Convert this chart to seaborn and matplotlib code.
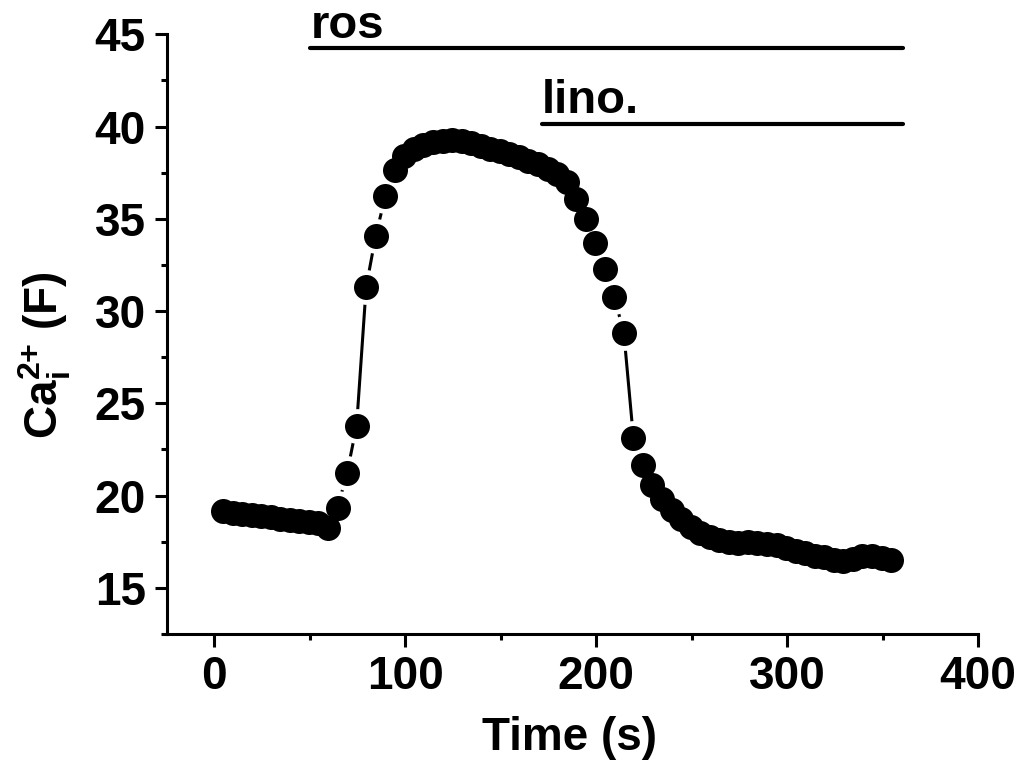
import numpy as np
import pandas as pd
import matplotlib
matplotlib.use("Agg")
import matplotlib.pyplot as plt
import seaborn as sns
from matplotlib.ticker import MultipleLocator

# Data (time in s, Ca_i fluorescence in F)
time_s = [
    4.5, 9.5, 14.5, 19.5, 24.5, 29.5, 34.5, 39.5, 44.5, 49.5,
    54.5, 59.5, 64.5, 69.5, 74.5, 79.5, 84.5, 89.5, 94.5, 99.5,
    104.5, 109.5, 114.5, 119.5, 124.5, 129.5, 134.5, 139.5, 144.5, 149.5,
    154.5, 159.5, 164.5, 169.5, 174.5, 179.5, 184.5, 189.5, 194.5, 199.5,
    204.5, 209.5, 214.5, 219.5, 224.5, 229.5, 234.5, 239.5, 244.5, 249.5,
    254.5, 259.5, 264.5, 269.5, 274.5, 279.5, 284.5, 289.5, 294.5, 299.5,
    304.5, 309.5, 314.5, 319.5, 324.5, 329.5, 334.5, 339.5, 344.5, 349.5,
    354.5,
]
ca_f = [
    19.15, 19.08, 19.0, 18.95, 18.88, 18.82, 18.75, 18.7, 18.62, 18.56,
    18.5, 18.25, 19.34, 21.23, 23.79, 31.3, 34.08, 36.21, 37.65, 38.4,
    38.8, 39.0, 39.15, 39.2, 39.25, 39.2, 39.1, 38.95, 38.8, 38.65,
    38.5, 38.35, 38.15, 37.95, 37.7, 37.45, 37.0, 36.05, 35.0, 33.7,
    32.28, 30.76, 28.81, 23.13, 21.63, 20.55, 19.8, 19.2, 18.75, 18.3,
    17.95, 17.75, 17.6, 17.5, 17.45, 17.5, 17.45, 17.4, 17.3, 17.15,
    17.0, 16.9, 16.75, 16.65, 16.5, 16.45, 16.55, 16.7, 16.7, 16.6,
    16.5,
]

# drug application bars: label, start, end, level
drug_labels = ["ros", "lino."]
drug_start = [50.3, 171.5]
drug_end = [360.7, 360.7]
drug_level = [44.25, 40.13]
label_level = [44.8, 40.72]

df = pd.DataFrame({"time": time_s, "ca": ca_f})

sns.set_style("ticks")
plt.rcParams.update({
    "font.family": ["Liberation Sans", "DejaVu Sans"],
    "font.weight": "bold",
    "mathtext.fontset": "custom",
    "mathtext.rm": "Liberation Sans:bold",
    "mathtext.it": "Liberation Sans:bold",
    "mathtext.bf": "Liberation Sans:bold",
    "axes.linewidth": 2.2,
    "text.color": "black",
    "axes.labelcolor": "black",
    "axes.edgecolor": "black",
    "xtick.color": "black",
    "ytick.color": "black",
})

fig = plt.figure(figsize=(10.22, 7.72), dpi=100)
ax = fig.add_axes([0.1631, 0.1788, 0.7938, 0.7768])

# connecting line, then white halo so the line stops short of each dot, then dots
sns.lineplot(data=df, x="time", y="ca", ax=ax, color="black", linewidth=2.2,
             sort=False, estimator=None)
sns.scatterplot(data=df, x="time", y="ca", ax=ax, color="white", s=25 ** 2,
                linewidth=0, zorder=3)
sns.scatterplot(data=df, x="time", y="ca", ax=ax, color="black", s=18 ** 2,
                linewidth=0, zorder=4)

for lab, x0, x1, lv, tl in zip(drug_labels, drug_start, drug_end, drug_level, label_level):
    ax.plot([x0, x1], [lv, lv], color="black", linewidth=3, solid_capstyle="round",
            clip_on=False, zorder=5)
    ax.text(x0, tl, lab, fontsize=34, fontweight="bold", ha="left", va="baseline",
            clip_on=False)

ax.set_xlim(-25, 400)
ax.set_ylim(12.5, 45)
ax.xaxis.set_major_locator(MultipleLocator(100))
ax.xaxis.set_minor_locator(MultipleLocator(50))
ax.yaxis.set_major_locator(MultipleLocator(5))
ax.yaxis.set_minor_locator(MultipleLocator(2.5))
ax.tick_params(which="major", length=9, width=2.2, labelsize=33, pad=6)
ax.tick_params(which="minor", length=4.5, width=2.2)
for lbl in ax.get_xticklabels() + ax.get_yticklabels():
    lbl.set_fontweight("bold")

ax.set_xlabel("Time (s)", fontsize=33, fontweight="bold", va="center")
ax.xaxis.set_label_coords(0.497, -0.173)
ax.set_ylabel(r"Ca$_\mathregular{i}^\text{2+}$ (F)", fontsize=33, fontweight="bold",
              va="center")
ax.yaxis.set_label_coords(-0.150, 0.465)

sns.despine(ax=ax)
fig.savefig("out.png", dpi=100)
